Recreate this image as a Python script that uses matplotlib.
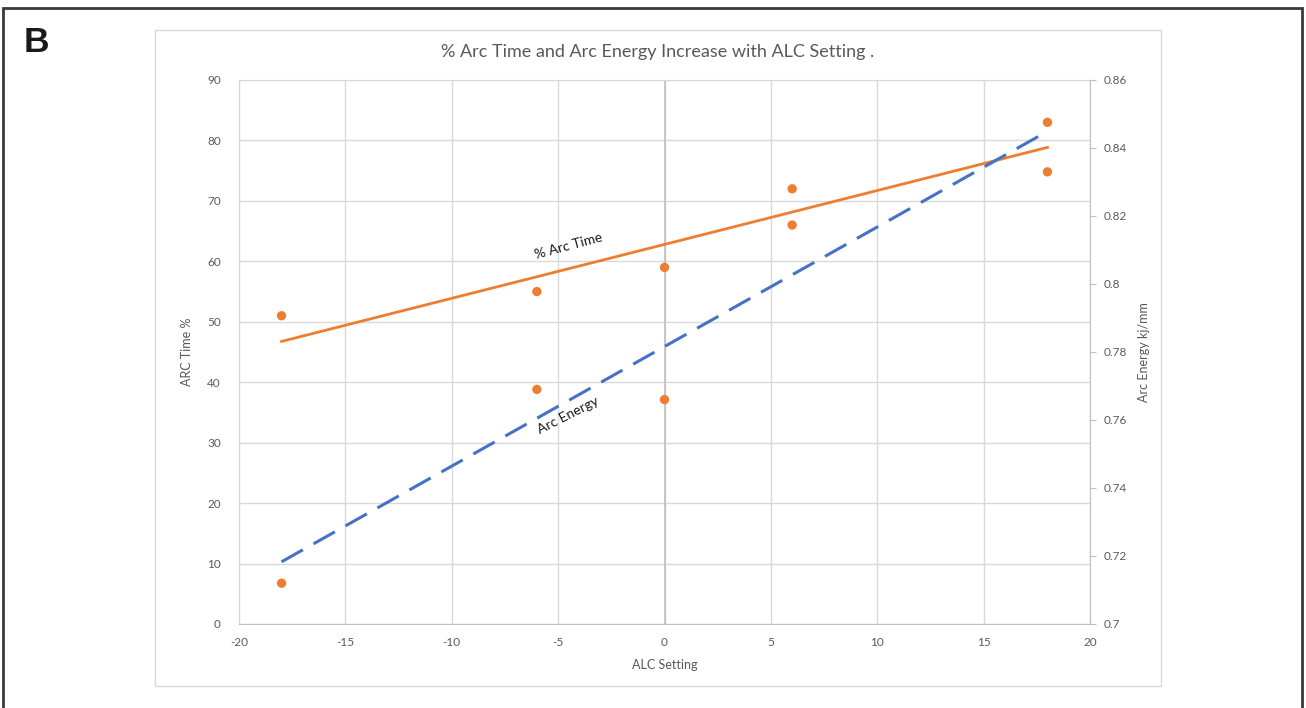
import matplotlib
matplotlib.use("Agg")
import matplotlib.pyplot as plt
from matplotlib.patches import Rectangle
import numpy as np

# Data
alc_time = [-18, -6, 0, 6, 18]
arc_time_pct = [51, 55, 59, 66, 83]
alc_energy = [-18, -6, 0, 6, 18]
arc_energy = [0.712, 0.769, 0.766, 0.828, 0.833]

x_ticks = [-20, -15, -10, -5, 0, 5, 10, 15, 20]
y_left_ticks = [0, 10, 20, 30, 40, 50, 60, 70, 80, 90]
y_right_ticks = [0.7, 0.72, 0.74, 0.76, 0.78, 0.8, 0.82, 0.84, 0.86]
y_right_labels = ["0.7", "0.72", "0.74", "0.76", "0.78", "0.8", "0.82", "0.84", "0.86"]

ORANGE = "#ED7D31"
BLUE = "#4472C4"
TXT = "#595959"
GRID = "#D9D9D9"

plt.rcParams['font.family'] = ['Lato', 'DejaVu Sans']
plt.rcParams['axes.unicode_minus'] = False

W, H = 1306, 708
fig = plt.figure(figsize=(W / 100, H / 100), dpi=100)

def fx(px):
    return px / W

def fy(py):
    return 1 - py / H

# outer frame
fig.patches.append(Rectangle((fx(3), fy(720)), fx(1302) - fx(3), fy(8) - fy(720),
                             transform=fig.transFigure, fill=False, ec="#3a3a3a", lw=2))
# chart area box
fig.patches.append(Rectangle((fx(155), fy(686)), fx(1161) - fx(155), fy(30) - fy(686),
                             transform=fig.transFigure, fill=False, ec=GRID, lw=1))

fig.text(fx(24), fy(43), "B", fontsize=25.5, fontweight="bold", family="Liberation Sans",
         color="#1a1a1a", va="center", ha="left")

ax = fig.add_axes([fx(239), fy(624), fx(1090) - fx(239), fy(80) - fy(624)])
ax2 = ax.twinx()

ax.set_xlim(-20, 20)
ax.set_ylim(0, 90)
ax2.set_ylim(0.7, 0.86)
ax.set_xticks(x_ticks)
ax.set_yticks(y_left_ticks)
ax2.set_yticks(y_right_ticks)
ax2.set_yticklabels(y_right_labels)

ax.grid(True, color=GRID, lw=1)
ax.set_axisbelow(True)
ax.axvline(0, color="#BFBFBF", lw=1.2, zorder=1)

for s in ["left", "top"]:
    ax.spines[s].set_color(GRID)
    ax2.spines[s].set_visible(False)
ax.spines["right"].set_visible(False)
ax.spines["bottom"].set_color("#BFBFBF")
ax2.spines["bottom"].set_visible(False)
ax2.spines["left"].set_visible(False)
ax2.spines["right"].set_color("#BFBFBF")

ax.tick_params(axis="x", length=0, pad=9, labelsize=8.5, labelcolor=TXT)
ax.tick_params(axis="y", length=0, pad=13, labelsize=8.5, labelcolor=TXT)
ax2.tick_params(axis="y", length=4, color="#BFBFBF", pad=6, labelsize=8.5, labelcolor=TXT)

ax.set_xlabel("ALC Setting", fontsize=9, color=TXT, labelpad=8)
ax.set_ylabel("ARC Time %", fontsize=9, color=TXT, labelpad=10)
ax2.set_ylabel("Arc Energy kj/mm", fontsize=9, color=TXT, labelpad=8)

# points
ax.scatter(alc_time, arc_time_pct, s=45, color=ORANGE, zorder=4, edgecolors="none")
ax2.scatter(alc_energy, arc_energy, s=45, color=ORANGE, zorder=4, edgecolors="none")

# trendlines
xs = np.array([min(alc_time), max(alc_time)])
p1 = np.polyfit(alc_time, arc_time_pct, 1)
ax.plot(xs, np.polyval(p1, xs), color=ORANGE, lw=2, zorder=3)
p2 = np.polyfit(alc_energy, arc_energy, 1)
xe = np.array([min(alc_energy), max(alc_energy)])
ax2.plot(xe, np.polyval(p2, xe), color=BLUE, lw=2.2, ls=(0, (8, 4)), zorder=3)

ax.text(-4.5, 62.5, "% Arc Time", rotation=15, fontsize=10, color="#1a1a1a",
        ha="center", va="center", zorder=5)
ax.text(-4.55, 34.5, "Arc Energy", rotation=27, fontsize=10, color="#1a1a1a",
        ha="center", va="center", zorder=5)

fig.text(fx(658), fy(52), "% Arc Time and Arc Energy Increase with ALC Setting .",
         fontsize=13, color=TXT, ha="center", va="center")

fig.savefig("out.png", dpi=100)
